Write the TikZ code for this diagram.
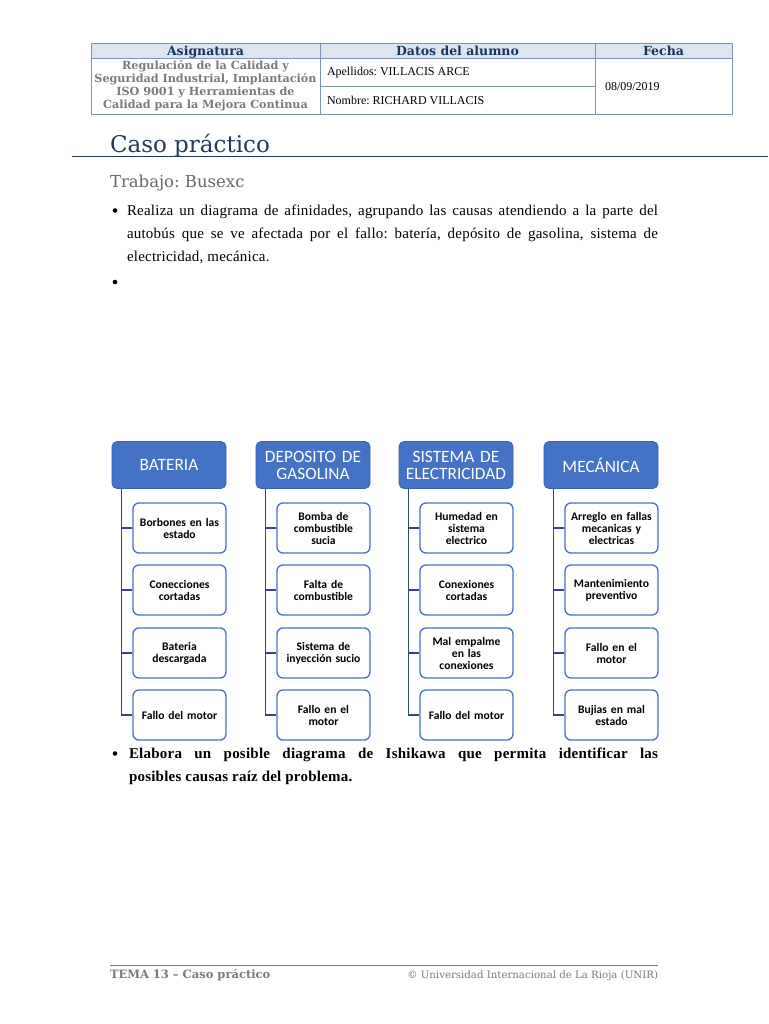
\documentclass[tikz,border=0pt]{standalone}
\usepackage{fontspec}
\setmainfont{Liberation Serif}
\newfontfamily\bodyf[LetterSpace=1.5]{Liberation Serif}
\newfontfamily\carl{Carlito}
\newfontfamily\dvs{DejaVu Serif}
\usetikzlibrary{calc}
\frenchspacing
\definecolor{navy}{HTML}{1F3A60}
\definecolor{thead}{HTML}{DCE5F0}
\definecolor{tline}{HTML}{7F93B0}
\definecolor{theadtxt}{HTML}{17365D}
\definecolor{greytxt}{HTML}{7A7A7A}
\definecolor{hdrblue}{HTML}{4472C4}
\definecolor{hdrborder}{HTML}{3A62AB}
\definecolor{conncol}{HTML}{2E4A7D}
\begin{document}
\begin{tikzpicture}[x=1pt,y=-1pt,
  txt/.style={inner sep=0pt,outer sep=0pt},
  thh/.style={txt,anchor=base,font=\dvs\bfseries\fontsize{12.5}{14}\selectfont,text=theadtxt},
  cell/.style={txt,font=\fontsize{12}{14}\selectfont,anchor=west},
  hdr/.style={draw=hdrborder,fill=hdrblue,rounded corners=5pt,line width=0.8pt,
    minimum width=114pt,minimum height=47pt,inner sep=0pt,text width=112pt,align=center,
    text=white,font=\carl\fontsize{17.3}{17}\selectfont},
  item/.style={draw=hdrblue,fill=white,rounded corners=6pt,line width=1.3pt,
    minimum width=93pt,minimum height=50pt,inner sep=0pt,text width=92pt,align=center,
    font=\carl\bfseries\fontsize{11.6}{12}\selectfont},
  conn/.style={draw=conncol,line width=1.4pt},
  bul/.style={fill=black,circle,inner sep=0pt,minimum size=4.6pt},
  body/.style={txt,anchor=base west,font=\bodyf\fontsize{15}{16}\selectfont},
  boldbody/.style={txt,anchor=base west,font=\bodyf\bfseries\fontsize{15}{16}\selectfont}
]
\useasboundingbox[fill=white] (0,0) rectangle (768,1024);

% ---- header table
\fill[thead] (91,43) rectangle (732,58);
\draw[tline,line width=0.9pt] (91,43) rectangle (732,114);
\draw[tline,line width=0.9pt] (91,58) -- (732,58);
\draw[tline,line width=0.9pt] (320,43) -- (320,114);
\draw[tline,line width=0.9pt] (595,43) -- (595,114);
\draw[tline,line width=0.9pt] (320,86) -- (595,86);
\node[thh] (hasig) at (205.5,55.5) {Asignatura};
\node[thh] (hdatos) at (457.5,55.5) {Datos del alumno};
\node[thh] (hfecha) at (663.5,55.5) {Fecha};
\node[txt,align=center,text=greytxt,font=\dvs\bfseries\fontsize{11.2}{13}\selectfont] (asig) at (205.5,86)
  {Regulación de la Calidad y\\Seguridad Industrial, Implantación\\ISO 9001 y Herramientas de\\Calidad para la Mejora Continua};
\node[cell] (ape) at (327,72.5) {Apellidos: VILLACIS ARCE};
\node[cell] (nom) at (327,100.5) {Nombre: RICHARD VILLACIS};
\node[cell] (fecha) at (605,86.5) {08/09/2019};

% ---- title
\node[txt,anchor=base west,text=navy,font=\dvs\fontsize{23}{26}\selectfont] (titulo) at (110,153) {Caso práctico};
\coordinate (rl) at (72,157);
\coordinate (rr) at (768,157);
\draw[navy,line width=1pt] (rl) -- (rr);
\node[txt,anchor=base west,text=greytxt!85!black,font=\dvs\fontsize{16.5}{19}\selectfont] (trabajo) at (110,188) {Trabajo: Busexc};

% ---- bullet 1
\node[bul] (b1) at (115,210.5) {};
\node[body] (l1) at (127,215) {\makebox[531pt][s]{Realiza un diagrama de afinidades, agrupando las causas atendiendo a la parte del}};
\node[body] (l2) at (127,238) {\makebox[531pt][s]{autobús que se ve afectada por el fallo: batería, depósito de gasolina, sistema de}};
\node[body] (l3) at (127,261) {electricidad, mecánica.};
\node[bul] (b2) at (115,282) {};

% ---- affinity diagram headers
\node[hdr] (h1) at (169,465) {BATERIA};
\node[hdr] (h2) at (313,465) {DEPOSITO DE\\GASOLINA};
\node[hdr] (h3) at (456,465) {SISTEMA DE\\ELECTRICIDAD};
\node[hdr] (h4) at (601,465) {MECÁNICA};

% ---- items
\node[item] (c11) at (179.5,528) {Borbones en las\\estado};
\node[item] (c12) at (179.5,590) {Conecciones\\cortadas};
\node[item] (c13) at (179.5,653) {Bateria\\descargada};
\node[item] (c14) at (179.5,715) {Fallo del motor};

\node[item] (c21) at (323.5,528) {Bomba de\\combustible\\sucia};
\node[item] (c22) at (323.5,590) {Falta de\\combustible};
\node[item] (c23) at (323.5,653) {Sistema de\\inyección sucio};
\node[item] (c24) at (323.5,715) {Fallo en el\\motor};

\node[item] (c31) at (466.5,528) {Humedad en\\sistema\\electrico};
\node[item] (c32) at (466.5,590) {Conexiones\\cortadas};
\node[item] (c33) at (466.5,653) {Mal empalme\\en las\\conexiones};
\node[item] (c34) at (466.5,715) {Fallo del motor};

\node[item] (c41) at (611.5,528) {Arreglo en fallas\\mecanicas y\\electricas};
\node[item] (c42) at (611.5,590) {Mantenimiento\\preventivo};
\node[item] (c43) at (611.5,653) {Fallo en el\\motor};
\node[item] (c44) at (611.5,715) {Bujias en mal\\estado};

% ---- connectors
\foreach \h in {1,2,3,4}{
  \coordinate (v\h) at ($(h\h.south west)+(10,0)$);
  \draw[conn] (v\h) |- (c\h4.west);
  \foreach \k in {1,2,3}{
    \draw[conn] (v\h |- c\h\k.west) -- (c\h\k.west);
  }
}

% ---- bullet 2 (bold)
\node[bul] (b3) at (115,753.5) {};
\node[boldbody] (l4) at (129,758) {\makebox[529pt][s]{Elabora un posible diagrama de Ishikawa que permita identificar las}};
\node[boldbody] (l5) at (129,781) {posibles causas raíz del problema.};

% ---- footer
\coordinate (fl) at (110,965);
\coordinate (fr) at (658,965);
\draw[greytxt,line width=0.8pt] (fl) -- (fr);
\node[txt,anchor=base west,text=greytxt,font=\dvs\bfseries\fontsize{11.5}{13}\selectfont] (ftema) at (110,978) {TEMA 13 – Caso práctico};
\node[txt,anchor=base east,text=greytxt,font=\dvs\fontsize{10.2}{12}\selectfont] (funir) at (658,978) {© Universidad Internacional de La Rioja (UNIR)};
\end{tikzpicture}
\end{document}
